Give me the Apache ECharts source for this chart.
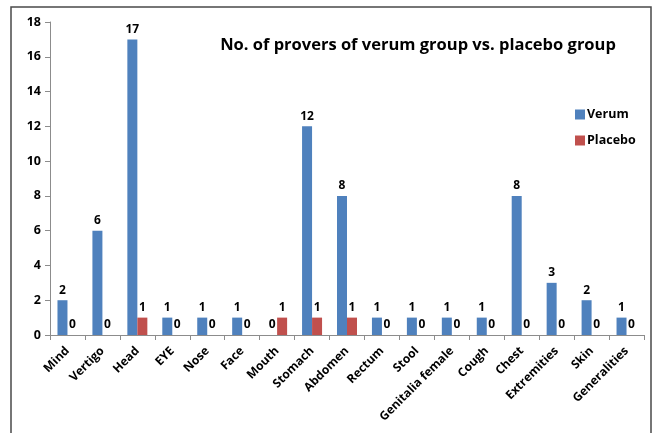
<!DOCTYPE html>
<html><head><meta charset="utf-8">
<script src="https://cdn.jsdelivr.net/npm/echarts@6/dist/echarts.min.js"></script>
<style>html,body{margin:0;padding:0;background:#fff}#c{width:657px;height:433px}</style>
</head><body><div id="c"></div>
<script>
const categories = ["Mind","Vertigo","Head","EYE","Nose","Face","Mouth","Stomach","Abdomen","Rectum","Stool","Genitalia female","Cough","Chest","Extremities","Skin","Generalities"];
const verum = [2,6,17,1,1,1,0,12,8,1,1,1,1,8,3,2,1];
const placebo = [0,0,1,0,0,0,1,1,1,0,0,0,0,0,0,0,0];
const yTicks = {min:0, max:18, interval:2};
const FONT = "Open Sans";
const chart = echarts.init(document.getElementById('c'));
const lbl = {show:true, position:'top', distance:4, fontFamily:FONT, fontWeight:'bold', fontSize:12, color:'#000'};
chart.setOption({
  animation:false,
  textStyle:{fontFamily:FONT},
  title:{text:'No. of provers of verum group vs. placebo group', left:413, textAlign:'center', top:32,
    textStyle:{fontFamily:FONT, fontWeight:'bold', fontSize:16.5, color:'#000'}},
  legend:{orient:'vertical', left:570, top:103, itemGap:13, itemWidth:10, itemHeight:10, icon:'rect',
    textStyle:{fontFamily:FONT, fontWeight:'bold', fontSize:12.5, color:'#000', padding:[0,0,0,-3]}},
  grid:{left:50, right:13, top:22, bottom:98, containLabel:false},
  xAxis:{type:'category', data:categories,
    axisLine:{lineStyle:{color:'#8c8c8c'}},
    axisTick:{show:true, length:5, alignWithLabel:false, lineStyle:{color:'#8c8c8c'}},
    axisLabel:{rotate:45, interval:0, margin:14, fontFamily:FONT, fontWeight:'bold', fontSize:12, color:'#000'}},
  yAxis:{type:'value', min:yTicks.min, max:yTicks.max, interval:yTicks.interval,
    splitLine:{show:false},
    axisLine:{show:true, lineStyle:{color:'#8c8c8c'}},
    axisTick:{show:true, length:5, lineStyle:{color:'#8c8c8c'}},
    axisLabel:{margin:9, fontFamily:FONT, fontWeight:'bold', fontSize:12.5, color:'#000'}},
  series:[
    {name:'Verum', type:'bar', data:verum, barWidth:10, barGap:'0%', itemStyle:{color:'#4F81BD'}, label:lbl},
    {name:'Placebo', type:'bar', data:placebo, barWidth:10, barGap:'0%', itemStyle:{color:'#C0504D'}, label:lbl}
  ],
  graphic:[{type:'rect', shape:{x:11, y:7, width:640, height:440}, style:{fill:null, stroke:'#4a4a4a', lineWidth:1.5}, silent:true}]
});
</script></body></html>
